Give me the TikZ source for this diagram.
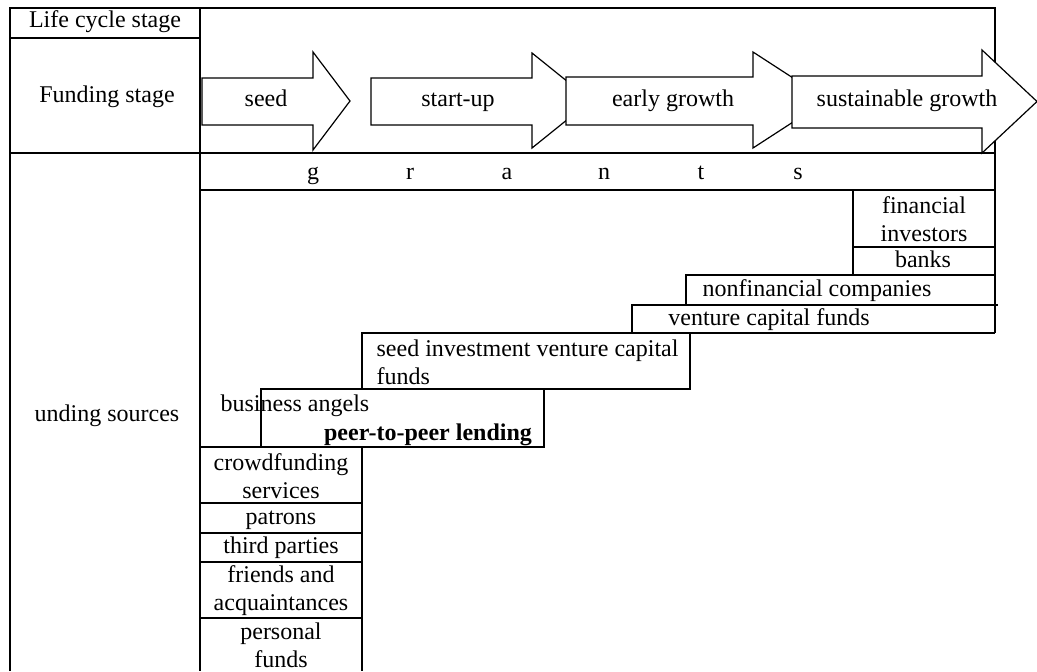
\documentclass[tikz,border=0pt]{standalone}
\usepackage{fontspec}
\setmainfont{Liberation Serif}
\begin{document}
\begin{tikzpicture}[x=0.5pt,y=-0.5pt,line width=0.6pt,
    lbl/.style={inner sep=0pt,font=\fontsize{12}{14}\selectfont,align=center},
    oneline/.style={lbl,text height=8.5pt,text depth=2.5pt},
    stagearrow/.style={draw,fill=white,line join=miter}]
  \useasboundingbox (0,0) rectangle (1037,671);

  % table frame
  \draw (10,671) -- (10,8) -- (995,8) -- (995,333);
  \draw (200,8) -- (200,671);
  \draw (10,38) -- (200,38);
  \draw (10,153) -- (995,153);
  \draw (200,190) -- (995,190);

  % funding stage arrows
  \foreach \bl/\bt/\bb/\hx/\ht/\hb/\tx in {202/78/125/313/52/150/350,
      371/78/125/532/53/148/591, 566/77/125/753/52/148/827,
      792/76/128/982/50/153/1037}
    \draw[stagearrow] (\bl,\bt) -- (\hx,\bt) -- (\hx,\ht) -- (\tx,{(\ht+\hb)/2})
      -- (\hx,\hb) -- (\hx,\bb) -- (\bl,\bb) -- cycle;

  \node[oneline] (lifecycle) at (105,21) {Life cycle stage};
  \node[oneline] (fundstage) at (107,96) {Funding stage};
  \node[oneline] (seed) at (266,100) {seed};
  \node[oneline] (startup) at (458,100) {start-up};
  \node[oneline] (early) at (673,100) {early growth};
  \node[oneline] (sustain) at (907,100) {sustainable growth};

  % grants row
  \foreach \ch [count=\i] in {g,r,a,n,t,s}
    \node[lbl,anchor=base] (grant\i) at ({313+97*(\i-1)},179) {\ch};

  % sources, top right steps
  \draw (853,190) -- (853,275);
  \draw (853,247) -- (995,247);
  \draw (686,305) -- (686,275) -- (995,275);
  \draw (632,333) -- (632,305) -- (998,305);
  \draw (632,333) -- (995,333);
  \draw (362,333) rectangle (690,389);
  \draw (261,389) rectangle (544,447);

  % sources, bottom column
  \foreach \y in {447,503,533,562,618}
    \draw (200,\y) -- (362,\y);
  \draw (362,447) -- (362,671);

  \node[oneline] (sources) at (107,415) {unding sources};
  \node[lbl] (fininv) at (924,219) {financial\\investors};
  \node[oneline] (banks) at (923,261) {banks};
  \node[oneline] (nonfin) at (817,290) {nonfinancial companies};
  \node[oneline] (vcf) at (769,319) {venture capital funds};
  \node[lbl,anchor=west,align=left] (seedvc) at (376,362) {seed investment venture capital\\funds};
  \node[oneline,anchor=west] (angels) at (220,405) {business angels};
  \node[oneline,font=\fontsize{12}{14}\selectfont\bfseries] (p2p) at (428,434) {peer-to-peer lending};
  \node[lbl] (crowd) at (281,476) {crowdfunding\\services};
  \node[oneline] (patrons) at (281,518) {patrons};
  \node[oneline] (third) at (281,547) {third parties};
  \node[lbl] (friends) at (281,591) {friends and\\acquaintances};
  \node[lbl] (personal) at (281,645) {personal\\funds};
\end{tikzpicture}
\end{document}
